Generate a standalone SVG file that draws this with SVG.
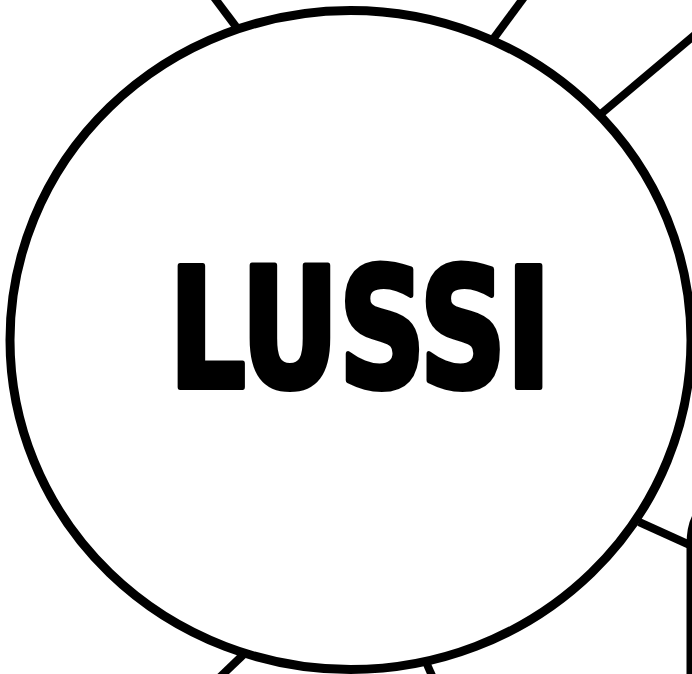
<svg xmlns="http://www.w3.org/2000/svg" width="692" height="674" viewBox="0 0 692 674">
<style>
  .edge { stroke: #000; stroke-width: 8; fill: none; stroke-linecap: butt; }
  .node { fill: #fff; stroke: #000; stroke-width: 9; }
  .label { font-family: "DejaVu Sans Condensed", "DejaVu Sans", "Liberation Sans", sans-serif; font-weight: bold; font-size: 166px; fill: #000; stroke: #000; stroke-width: 6; stroke-linejoin: round; }
</style>
<rect width="692" height="674" fill="#fff"/>
<g id="connectors">
  <line class="edge" x1="213" y1="-4" x2="237" y2="28"/>
  <line class="edge" x1="525" y1="-4" x2="494" y2="38"/>
  <line class="edge" x1="697" y1="33" x2="602" y2="113"/>
  <line class="edge" x1="639" y1="522" x2="692" y2="546"/>
  <line class="edge" x1="219" y1="678" x2="243" y2="655"/>
  <line class="edge" x1="426" y1="662" x2="433" y2="678"/>
</g>
<g id="node-lussi">
  <ellipse class="node" cx="350.5" cy="340" rx="340.5" ry="329.5"/>
  <text class="label" x="360" y="387" text-anchor="middle" textLength="382" lengthAdjust="spacingAndGlyphs">LUSSI</text>
</g>
<g id="node-right">
  <path class="node" d="M 691 680 L 691 545 Q 691 522 700 512"/>
</g>
</svg>
